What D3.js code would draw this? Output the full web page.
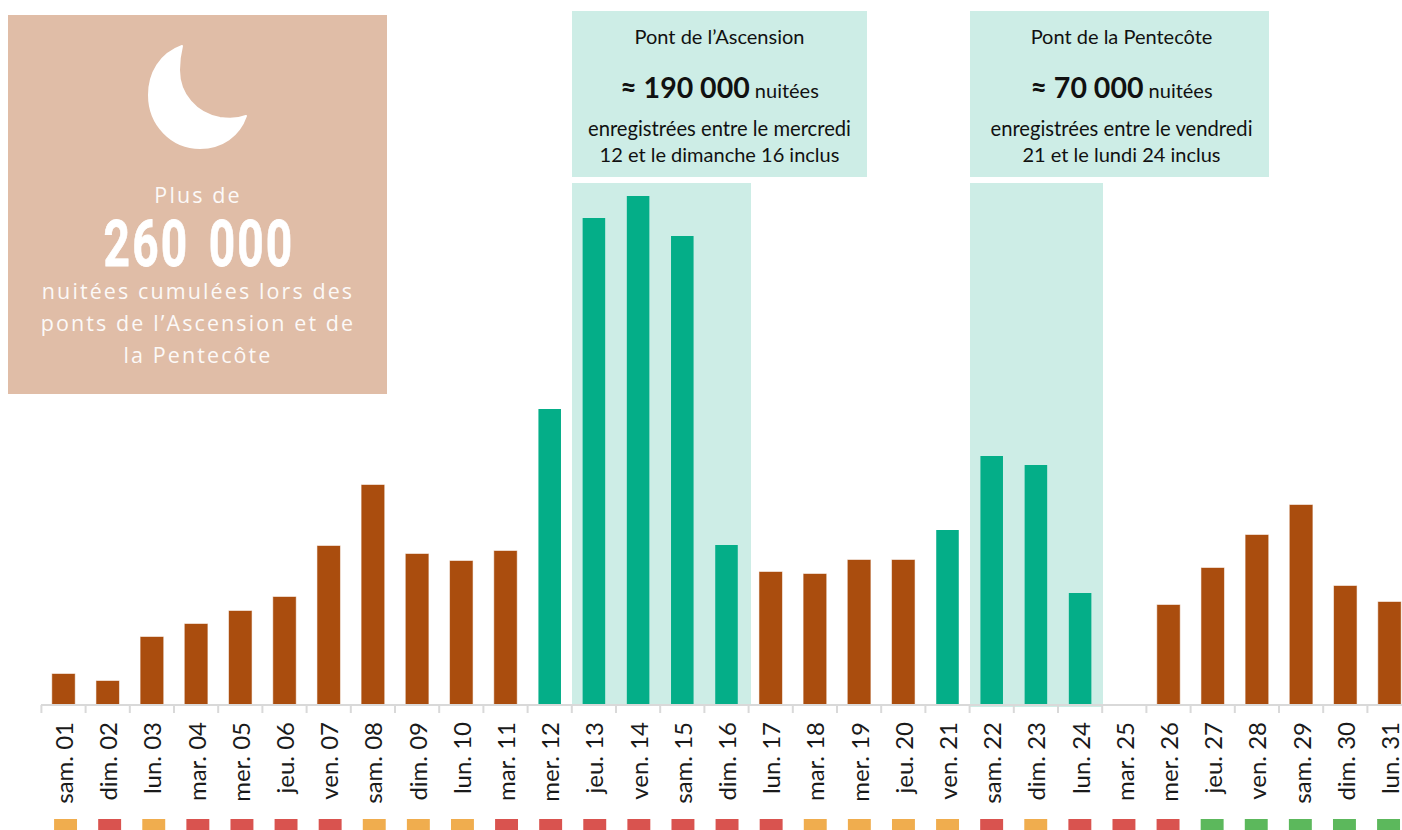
<!DOCTYPE html>
<html lang="fr">
<head>
  <meta charset="UTF-8">
  <title>Nuitées - ponts de mai</title>
  <script src="https://d3js.org/d3.v7.min.js"></script>
  <style>
    html, body { margin: 0; padding: 0; background: #fff; overflow: hidden; }
    svg { display: block; }
    .note { font-family: Lato, sans-serif; fill: #111; text-anchor: middle; }
    .beige { font-family: "Open Sans", sans-serif; fill: #fff; text-anchor: middle; letter-spacing: 2.1px; opacity: .92; }
    .tick text { font-family: Lato, sans-serif; font-size: 24px; fill: #1a1a1a; }
  </style>
</head>
<body>
  <svg width="1402" height="830"></svg>
  <script>
    var days = ["sam. 01","dim. 02","lun. 03","mar. 04","mer. 05","jeu. 06","ven. 07","sam. 08","dim. 09","lun. 10",
                "mar. 11","mer. 12","jeu. 13","ven. 14","sam. 15","dim. 16","lun. 17","mar. 18","mer. 19","jeu. 20",
                "ven. 21","sam. 22","dim. 23","lun. 24","mar. 25","mer. 26","jeu. 27","ven. 28","sam. 29","dim. 30","lun. 31"];
    // nuitees par jour
    var nights = [3000,2300,6700,8000,9300,10700,15800,21900,15000,14300,
                  15300,29500,48600,50800,46800,15900,13200,13000,14400,14400,
                  17400,24800,23900,11100,0,9900,13600,16900,19900,11800,10200];
    // jours des ponts (barres vertes)
    var ascension = ["mer. 12","jeu. 13","ven. 14","sam. 15","dim. 16"];
    var pentecote = ["ven. 21","sam. 22","dim. 23","lun. 24"];
    // o = orange, r = rouge, g = vert
    var levels = ["o","r","o","r","r","r","r","o","o","o",
                  "r","r","r","r","r","r","r","o","o","o",
                  "o","r","o","r","r","r","g","g","g","g","g"];
    var levelColor = {o: "#f0ad4e", r: "#d9534f", g: "#5cb85c"};

    var svg = d3.select("svg");
    var baseline = 704;

    var x = d3.scaleBand().domain(days).range([41.4, 1411.6]).paddingInner(0.49).paddingOuter(0.245);
    var y = d3.scaleLinear().domain([0, 50800]).range([baseline, 196]);
    var stripX = d3.scaleBand().domain(days).range([43.5, 1410.6]).paddingInner(0.48).paddingOuter(0.24);

    function isBridge(d) { return ascension.indexOf(d) >= 0 || pentecote.indexOf(d) >= 0; }

    // summary box
    var box = svg.append("g");
    box.append("rect").attr("x", 8).attr("y", 15).attr("width", 379).attr("height", 379).attr("fill", "#e0bda7");
    box.append("path")
      .attr("fill", "#fff").attr("stroke", "#fff").attr("stroke-width", 2).attr("stroke-linejoin", "round")
      .attr("d", "M182,46 C160,54 149,73 149,95 C149,125 172,148 200,148 C222,148 239,136 246,116 C236,120 227,119 220,118 C196,114 179,94 179,70 C179,62 180,54 182,46 Z");
    box.append("text").attr("class", "beige").attr("x", 198).attr("y", 203).attr("font-size", 21.5).text("Plus de");
    // no condensed font here, so squeeze Roboto horizontally
    box.append("text").attr("transform", "translate(199,266) scale(0.72,1)")
      .attr("font-family", "Roboto, sans-serif").attr("font-weight", 700).attr("font-size", 64)
      .attr("letter-spacing", 3).attr("word-spacing", 8)
      .attr("fill", "#fff").attr("stroke", "#fff").attr("stroke-width", 0.8).attr("text-anchor", "middle")
      .text("260 000");
    ["nuitées cumulées lors des", "ponts de l’Ascension et de", "la Pentecôte"].forEach(function(t, i) {
      box.append("text").attr("class", "beige").attr("x", 198).attr("y", 299 + i * 32).attr("font-size", 21.5).text(t);
    });

    // highlight bands behind the bars
    var halo = "#cdede6";
    svg.append("rect").attr("x", 572).attr("y", 11).attr("width", 295).attr("height", 166).attr("fill", halo);
    svg.append("rect").attr("x", 970).attr("y", 11).attr("width", 299).attr("height", 166).attr("fill", halo);
    svg.append("rect").attr("x", 572).attr("y", 183).attr("width", 179).attr("height", 521).attr("fill", halo);
    svg.append("rect").attr("x", 970).attr("y", 183).attr("width", 133).attr("height", 524).attr("fill", halo);

    function note(cx, title, amount, l1, l2) {
      var g = svg.append("g");
      g.append("text").attr("class", "note").attr("x", cx).attr("y", 44).attr("font-size", 20).text(title);
      var t = g.append("text").attr("class", "note").attr("x", cx).attr("y", 97.5);
      t.append("tspan").attr("font-size", 28.5).attr("font-weight", 700).text(amount);
      t.append("tspan").attr("font-size", 20).text(" nuitées");
      g.append("text").attr("class", "note").attr("x", cx).attr("y", 136).attr("font-size", 20.2).text(l1);
      g.append("text").attr("class", "note").attr("x", cx).attr("y", 162).attr("font-size", 20).text(l2);
    }
    note(719.5, "Pont de l’Ascension", "≈ 190 000", "enregistrées entre le mercredi", "12 et le dimanche 16 inclus");
    note(1121.5, "Pont de la Pentecôte", "≈ 70 000", "enregistrées entre le vendredi", "21 et le lundi 24 inclus");

    // bars, the brown ones have a pale edge in the original
    svg.selectAll("rect.bar").data(days).enter().append("rect")
      .attr("class", "bar")
      .attr("x", function(d) { return x(d); })
      .attr("width", x.bandwidth())
      .attr("y", function(d, i) { return y(nights[i]); })
      .attr("height", function(d, i) { return baseline - y(nights[i]); })
      .attr("fill", function(d) { return isBridge(d) ? "#04ae88" : "#aa4d0e"; })
      .attr("stroke", function(d, i) { return (isBridge(d) || nights[i] === 0) ? "none" : "#aa4d0e"; })
      .attr("stroke-opacity", 0.45);

    // axis: ticks sit on band edges, so tick lines and labels are drawn apart
    var axis = svg.append("g").attr("transform", "translate(0," + (baseline + 1) + ")");
    axis.append("line").attr("x1", 41).attr("x2", 1402).attr("stroke", "#d9d9d9").attr("stroke-width", 2);
    axis.selectAll("line.t").data(days).enter().append("line")
      .attr("class", "t")
      .attr("x1", function(d) { return x(d) - x.step() * 0.245; })
      .attr("x2", function(d) { return x(d) - x.step() * 0.245; })
      .attr("y1", 0).attr("y2", 8)
      .attr("stroke", "#d9d9d9").attr("stroke-width", 2);

    var labels = svg.append("g")
      .attr("transform", "translate(0," + (baseline + 16) + ")")
      .call(d3.axisBottom(x).tickSize(0).tickPadding(0));
    labels.select(".domain").remove();
    labels.selectAll("text")
      .attr("transform", "translate(1,0) rotate(-90)")
      .attr("x", -2).attr("y", 0).attr("dy", "0.35em")
      .style("text-anchor", "end");

    // colour strip
    svg.selectAll("rect.level").data(days).enter().append("rect")
      .attr("class", "level")
      .attr("x", function(d) { return stripX(d); })
      .attr("y", 819).attr("width", stripX.bandwidth()).attr("height", 11)
      .attr("fill", function(d, i) { return levelColor[levels[i]]; });
  </script>
</body>
</html>
